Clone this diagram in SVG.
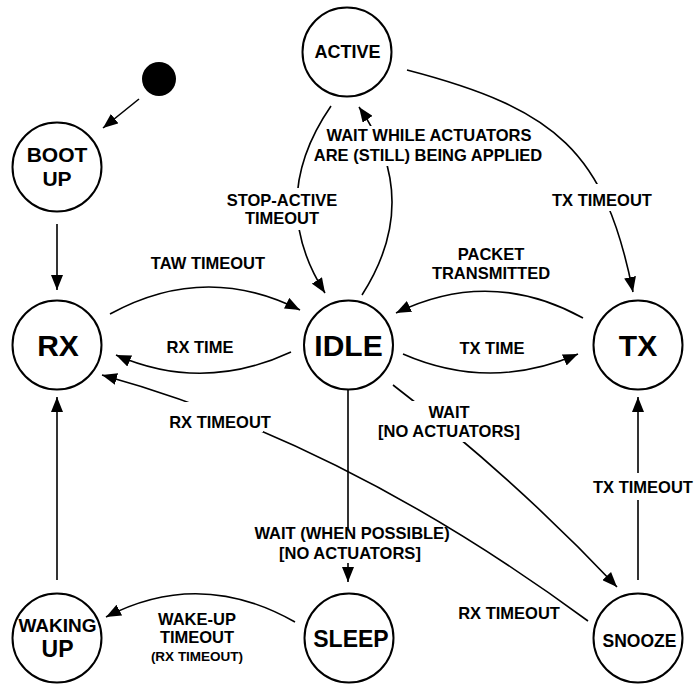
<svg xmlns="http://www.w3.org/2000/svg" width="694" height="684" viewBox="0 0 694 684">
<style>
.node{fill:#fff;stroke:#000;stroke-width:2}
.nt{font-family:"Liberation Sans",Arial,sans-serif;font-weight:bold;text-anchor:middle;fill:#000}
.edge{fill:none;stroke:#000;stroke-width:1.6}
.lbl{font-family:"Liberation Sans",Arial,sans-serif;font-weight:bold;font-size:16.5px;text-anchor:middle;fill:#000}
.bg{fill:#fff;stroke:none}
</style>
<defs>
<marker id="arr" viewBox="0 0 15 12" refX="15" refY="6" markerWidth="15" markerHeight="12" markerUnits="userSpaceOnUse" orient="auto">
<path d="M0,0 L15,6 L0,12 z" fill="#000"/>
</marker>
</defs>
<rect width="694" height="684" fill="#fff"/>
<g id="connectors">
<path class="edge" d="M139,99 L103,128" marker-end="url(#arr)"/>
<path class="edge" d="M57,224 L57,290" marker-end="url(#arr)"/>
<path class="edge" d="M110,314 Q205,262 300,310" marker-end="url(#arr)"/>
<text class="lbl" x="208" y="269">TAW TIMEOUT</text>
<path class="edge" d="M291,352 Q203,393 116,355" marker-end="url(#arr)"/>
<text class="lbl" x="200" y="353">RX TIME</text>
<path class="edge" d="M588,621 Q345,442 102,375" marker-end="url(#arr)"/>
<rect class="bg" x="165" y="402" width="98" height="30"/>
<text class="lbl" x="220" y="428">RX TIMEOUT</text>
<text class="lbl" x="509" y="619">RX TIMEOUT</text>
<path class="edge" d="M348,389 V528 M348,563 V582" marker-end="url(#arr)"/>
<text class="lbl" x="352" y="539">WAIT (WHEN POSSIBLE)</text>
<text class="lbl" x="350" y="559">[NO ACTUATORS]</text>
<path class="edge" d="M295,622 Q200,568 106,617" marker-end="url(#arr)"/>
<text class="lbl" x="197" y="625">WAKE-UP</text>
<text class="lbl" x="197" y="643">TIMEOUT</text>
<text class="lbl" x="197" y="661" style="font-size:13.5px">(RX TIMEOUT)</text>
<path class="edge" d="M57,580 L57,397" marker-end="url(#arr)"/>
<path class="edge" d="M362,295 Q423.5,199 359,107" marker-end="url(#arr)"/>
<rect class="bg" x="320" y="126" width="217" height="20"/>
<rect class="bg" x="310" y="145" width="236" height="21"/>
<text class="lbl" x="429" y="141">WAIT WHILE ACTUATORS</text>
<text class="lbl" x="428" y="161">ARE (STILL) BEING APPLIED</text>
<path class="edge" d="M331,106 Q266,200.5 325,293" marker-end="url(#arr)"/>
<rect class="bg" x="226" y="188" width="112" height="42"/>
<text class="lbl" x="282" y="206">STOP-ACTIVE</text>
<text class="lbl" x="282" y="224">TIMEOUT</text>
<path class="edge" d="M407,70 C557,109 605,152 633,292" marker-end="url(#arr)"/>
<rect class="bg" x="551" y="184" width="102" height="27"/>
<text class="lbl" x="602" y="206">TX TIMEOUT</text>
<path class="edge" d="M583,318 Q490,267 396,313" marker-end="url(#arr)"/>
<text class="lbl" x="491" y="260">PACKET</text>
<text class="lbl" x="491" y="279">TRANSMITTED</text>
<path class="edge" d="M403,354 Q490,392 578,354" marker-end="url(#arr)"/>
<text class="lbl" x="492" y="354">TX TIME</text>
<path class="edge" d="M393,385 Q513,477 617,587" marker-end="url(#arr)"/>
<rect class="bg" x="373" y="401" width="151" height="41"/>
<text class="lbl" x="449" y="418">WAIT</text>
<text class="lbl" x="449" y="437">[NO ACTUATORS]</text>
<path class="edge" d="M638,580 V500 M638,473 V397" marker-end="url(#arr)"/>
<text class="lbl" x="643" y="493">TX TIMEOUT</text>
</g>
<g id="start"><circle cx="159" cy="79" r="17" fill="#000"/></g>
<g id="active"><circle class="node" cx="347" cy="52" r="44.5"/><text class="nt" x="347.5" y="57.5" font-size="18">ACTIVE</text></g>
<g id="bootup"><circle class="node" cx="57" cy="167" r="44.5"/><text class="nt" x="57" y="162" font-size="21">BOOT</text><text class="nt" x="57" y="186" font-size="21">UP</text></g>
<g id="rx"><circle class="node" cx="57" cy="345" r="44.5"/><text class="nt" x="58" y="356" font-size="30">RX</text></g>
<g id="idle"><circle class="node" cx="348.5" cy="345" r="44.5"/><text class="nt" x="348.5" y="355.5" font-size="30">IDLE</text></g>
<g id="tx"><circle class="node" cx="638" cy="345" r="44.5"/><text class="nt" x="638" y="356" font-size="30">TX</text></g>
<g id="wakingup"><circle class="node" cx="57" cy="638" r="44.5"/><text class="nt" x="57.5" y="632" font-size="19">WAKING</text><text class="nt" x="57.5" y="657" font-size="23">UP</text></g>
<g id="sleep"><circle class="node" cx="349" cy="638" r="44.5"/><text class="nt" x="351" y="647" font-size="23">SLEEP</text></g>
<g id="snooze"><circle class="node" cx="638" cy="638" r="44.5"/><text class="nt" x="639.5" y="647" font-size="17.5">SNOOZE</text></g>
</svg>
